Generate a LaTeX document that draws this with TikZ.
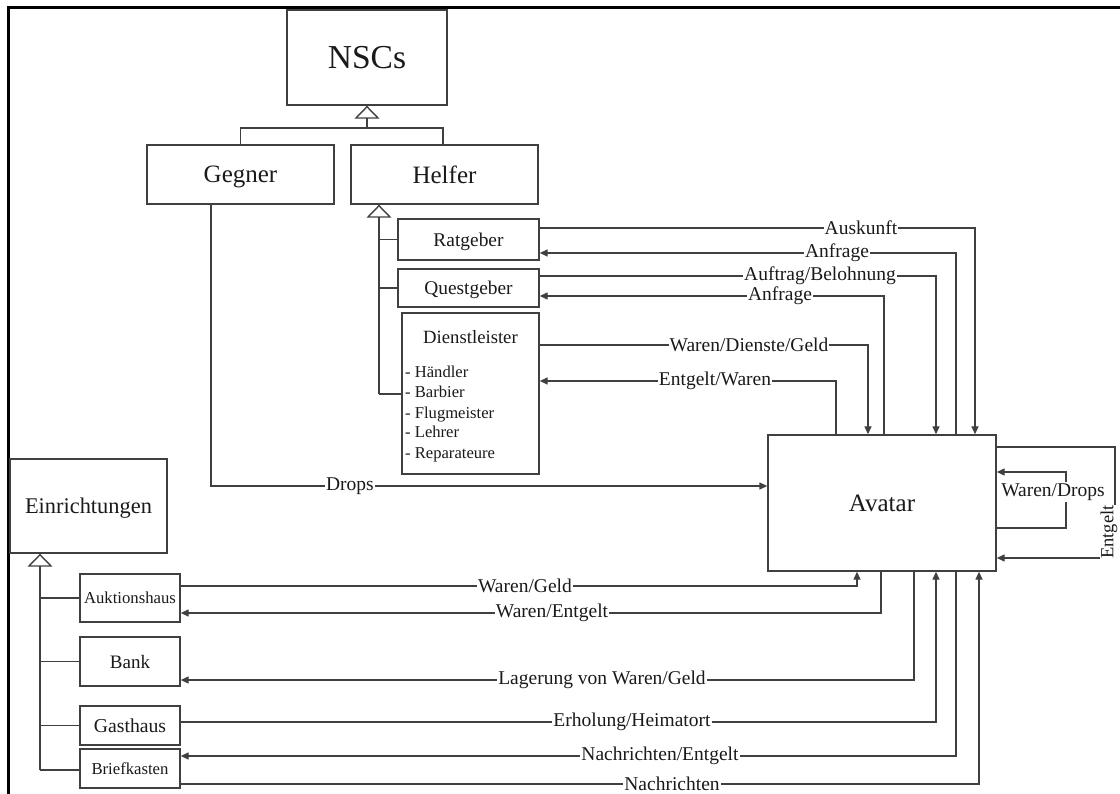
\documentclass[tikz,border=0pt]{standalone}
\usepackage{fontspec}
\setmainfont{Liberation Serif}
\usetikzlibrary{arrows.meta}
\definecolor{ln}{HTML}{404040}
\definecolor{tx}{HTML}{1A1A1A}
\tikzset{
  fs/.style={font=\fontsize{#1}{24}\selectfont},
  box/.style={draw=ln, line width=1.4pt, fill=white, text=tx, inner sep=2pt, align=center, text depth=0pt},
  con/.style={draw=ln, line width=1.4pt, -{Triangle[length=8pt,width=7pt]}},
  plain/.style={draw=ln, line width=1.4pt},
  gen/.style={draw=ln, line width=1.4pt, -{Triangle[open,length=13pt,width=25pt]}},
  lab/.style={fill=white, inner sep=1pt, text=tx, fs=19.5},
  item/.style={anchor=base west, inner sep=0pt, text=tx, fs=16.6},
}
\begin{document}
\begin{tikzpicture}[x=1pt,y=-1pt]
\useasboundingbox (0,0) rectangle (1120,794);
% frame
\draw[line width=3pt, black] (8,794) -- (8,7.5) -- (1120,7.5);

% NSC hierarchy
\node[box, fs=33.5, minimum width=160pt, minimum height=95pt] (nsc) at (367,57.5) {NSCs};
\node[box, fs=25, minimum width=187pt, minimum height=59pt] (gegner) at (240.5,174.5) {Gegner};
\node[box, fs=25, minimum width=187pt, minimum height=59pt] (helfer) at (444.5,174.5) {Helfer};
\node[box, fs=19.4, minimum width=141pt, minimum height=41pt] (rat) at (468.5,239.5) {Ratgeber};
\node[box, fs=19.4, minimum width=141pt, minimum height=38pt] (quest) at (468.5,288) {Questgeber};
\node[box, minimum width=137pt, minimum height=161pt] (dl) at (470.5,393.5) {};
\node[text=tx, fs=18.7, inner sep=0pt] (dlt) at (470.5,337) {Dienstleister};
\node[item] (d1) at (405,378) {- Händler};
\node[item] (d2) at (405,398) {- Barbier};
\node[item] (d3) at (405,418) {- Flugmeister};
\node[item] (d4) at (405,438) {- Lehrer};
\node[item] (d5) at (405,458) {- Reparateure};

% Avatar
\node[box, fs=25, minimum width=228pt, minimum height=136pt] (av) at (882,503) {Avatar};

% Einrichtungen
\node[box, fs=22.4, minimum width=157pt, minimum height=94pt] (einr) at (88.5,506) {Einrichtungen};
\node[box, fs=16.7, minimum width=100pt, minimum height=48pt] (auk) at (130,598) {Auktionshaus};
\node[box, fs=19, minimum width=100pt, minimum height=49pt] (bank) at (130,661.5) {Bank};
\node[box, fs=19.7, minimum width=100pt, minimum height=39pt] (gast) at (130,725.5) {Gasthaus};
\node[box, fs=16.7, minimum width=100pt, minimum height=39pt] (brief) at (130,768.5) {Briefkasten};

% generalisations
\coordinate (j1) at (367,128);
\draw[plain] (helfer.north -| 443,0) |- (j1);
\draw[gen] (gegner.north) |- (j1) -- (nsc.south);

\coordinate (h) at (379,394);
\draw[gen] (h) -- (helfer.south -| h);
\draw[plain] (rat.west) -- (rat.west -| h);
\draw[plain] (quest.west) -- (quest.west -| h);
\draw[plain] (h) -- (dl.west |- h);

\coordinate (e) at (40,770);
\draw[gen] (e) -- (einr.south -| e);
\draw[plain] (auk.west) -- (auk.west -| e);
\draw[plain] (bank.west) -- (bank.west -| e);
\draw[plain] (gast.west) -- (gast.west -| e);
\draw[plain] (e) -- (brief.west |- e);

% helper <-> avatar
\draw[con] (rat.east |- 0,228) -| (975,0 |- av.north);
\draw[con] (956,0 |- av.north) |- (rat.east |- 0,253);
\draw[con] (quest.east |- 0,276) -| (936,0 |- av.north);
\draw[con] (884,0 |- av.north) |- (quest.east |- 0,296);
\draw[con] (dl.east |- 0,345) -| (868,0 |- av.north);
\draw[con] (836,0 |- av.north) |- (dl.east |- 0,381);
\node[lab] (l1) at (861,228) {Auskunft};
\node[lab] (l2) at (837,253) {Anfrage};
\node[lab] (l3) at (820,276) {Auftrag/Belohnung};
\node[lab] (l4) at (780,296) {Anfrage};
\node[lab] (l5) at (749,345) {Waren/Dienste/Geld};
\node[lab] (l6) at (715,381) {Entgelt/Waren};

% Gegner -> Avatar
\draw[con] (211,0 |- gegner.south) |- (av.west |- 0,486);
\node[lab] (l7) at (350,486) {Drops};

% self loops
\coordinate (c1) at (1115,558);
\coordinate (c2) at (1066,472);
\draw[con] (av.east |- 0,447) -| (c1) -- (av.east |- c1);
\draw[con] (av.east |- 0,528) -| (c2) -- (av.east |- c2);
\node[lab] (l8) at (1053,492) {Waren/Drops};
\node[lab, rotate=90, inner sep=0.5pt, fs=18.5] (l9) at (1109,532) {Entgelt};

% Einrichtungen <-> avatar
\draw[con] (auk.east |- 0,586) -| (857,0 |- av.south);
\draw[con] (881,0 |- av.south) |- (auk.east |- 0,613);
\draw[con] (914,0 |- av.south) |- (bank.east |- 0,680);
\draw[con] (gast.east |- 0,722) -| (936,0 |- av.south);
\draw[con] (956,0 |- av.south) |- (brief.east |- 0,756);
\draw[con] (brief.east |- 0,784) -| (979,0 |- av.south);
\node[lab] (m1) at (525,586) {Waren/Geld};
\node[lab] (m2) at (552,613) {Waren/Entgelt};
\node[lab] (m3) at (602,680) {Lagerung von Waren/Geld};
\node[lab] (m4) at (632,722) {Erholung/Heimatort};
\node[lab] (m5) at (660,756) {Nachrichten/Entgelt};
\node[lab] (m6) at (672,784) {Nachrichten};
\end{tikzpicture}
\end{document}
